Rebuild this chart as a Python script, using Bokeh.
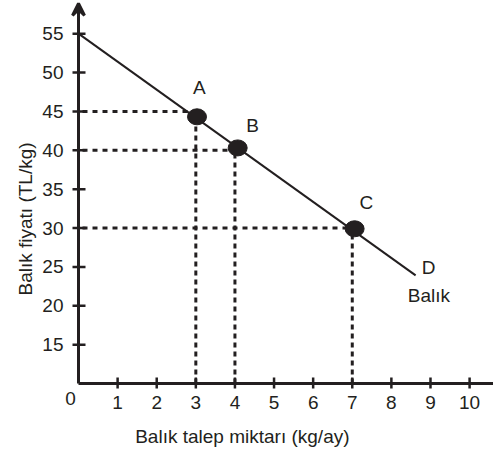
from bokeh.plotting import figure
from bokeh.models import Range1d, Arrow, VeeHead, ColumnDataSource
from bokeh.core.properties import value
from bokeh.embed import file_html
from bokeh.resources import INLINE
import math

# Data
line_q = [0, 8.62]
line_p = [55, 23.9]
point_names = ["A", "B", "C"]
point_q = [3.03, 4.07, 7.06]
point_p = [44.3, 40.3, 29.9]
guide_q = [3, 4, 7]
guide_p = [45, 40, 30]
x_ticks = [1, 2, 3, 4, 5, 6, 7, 8, 9, 10]
x_tick_labels = ["1", "2", "3", "4", "5", "6", "7", "8", "9", "10"]
y_ticks = [15, 20, 25, 30, 35, 40, 45, 50, 55]
y_tick_labels = ["15", "20", "25", "30", "35", "40", "45", "50", "55"]
x_title = "Balık talep miktarı (kg/ay)"
y_title = "Balık fiyatı (TL/kg)"
curve_name = "Balık"
y_origin = 10  # y axis is broken: the origin stands for 10 but is labelled 0

INK = "#231f20"
FONT = "Liberation Sans"

W, H = 493, 453
X0PX, XS = 78.0, 39.11      # pixel of x=0, pixels per unit
Y0PX, YS = 383.0, 7.775     # pixel of y=10, pixels per unit

def px_x(dx):
    return dx / XS

def px_y(dy):
    return dy / YS

p = figure(width=W, height=H, output_backend="svg", toolbar_location=None,
           x_range=Range1d(-X0PX / XS, (W - X0PX) / XS),
           y_range=Range1d(y_origin - (H - Y0PX) / YS, y_origin + Y0PX / YS),
           min_border=0, x_axis_type=None, y_axis_type=None)
p.grid.visible = False
p.outline_line_color = None
p.background_fill_color = "white"
p.border_fill_color = "white"

x_end = (W - X0PX) / XS
y_top = y_origin + (Y0PX - 3) / YS

# dotted guides
for q, pr, qq, pp in zip(guide_q, guide_p, point_q, point_p):
    p.line([px_x(4), qq], [pr, pr], line_color=INK, line_width=3, line_dash="5 5")
    p.line([q, q], [y_origin, pp], line_color=INK, line_width=3, line_dash="5 4")

# axes
p.line([0, x_end], [y_origin, y_origin], line_color=INK, line_width=3)
p.line([0, 0], [y_origin, y_top], line_color=INK, line_width=3)
p.add_layout(Arrow(end=VeeHead(size=12, line_width=3, line_color=INK, fill_color=None),
                   x_start=0, y_start=y_top - px_y(10), x_end=0, y_end=y_top,
                   line_width=3, line_color=INK))

# ticks
p.segment(x0=x_ticks, x1=x_ticks,
          y0=[y_origin + px_y(6)] * len(x_ticks), y1=[y_origin - px_y(5)] * len(x_ticks),
          line_color=INK, line_width=2.5)
p.segment(x0=[-px_x(6)] * len(y_ticks), x1=[px_x(7)] * len(y_ticks),
          y0=y_ticks, y1=y_ticks, line_color=INK, line_width=2.5)

tick_font = dict(text_font=value(FONT), text_font_size=value("19px"), text_color=INK,
                 text_baseline="middle")
p.text(x=x_ticks, y=[y_origin - px_y(18.5)] * len(x_ticks), text=x_tick_labels,
       text_align="center", **tick_font)
p.text(x=[-px_x(15)] * len(y_ticks), y=y_ticks, text=y_tick_labels,
       text_align="right", **tick_font)
p.text(x=[-px_x(8)], y=[y_origin - px_y(14.5)], text=["0"], text_align="center", **tick_font)

# demand line
p.line(line_q, line_p, line_color=INK, line_width=2)

# points
src = ColumnDataSource(dict(x=point_q, y=point_p))
p.ellipse(x="x", y="y", width=19, height=16, width_units="screen", height_units="screen",
          source=src, fill_color=INK, line_color=INK)

# point letters
letter_q = [3.09, 4.45, 7.36, 8.95]
letter_p = [48.07, 43.18, 33.28, 24.92]
p.text(x=letter_q, y=letter_p, text=point_names + ["D"], text_align="center", **tick_font)
p.text(x=[8.96], y=[21.32], text=[curve_name], text_align="center", **tick_font)

# axis titles
p.text(x=[4.19], y=[y_origin - px_y(53)], text=[x_title], text_align="center", **tick_font)
p.text(x=[-px_x(53)], y=[31.16], text=[y_title], text_align="center", angle=math.pi / 2,
       **tick_font)

open("out.html", "w").write(file_html(p, INLINE))
